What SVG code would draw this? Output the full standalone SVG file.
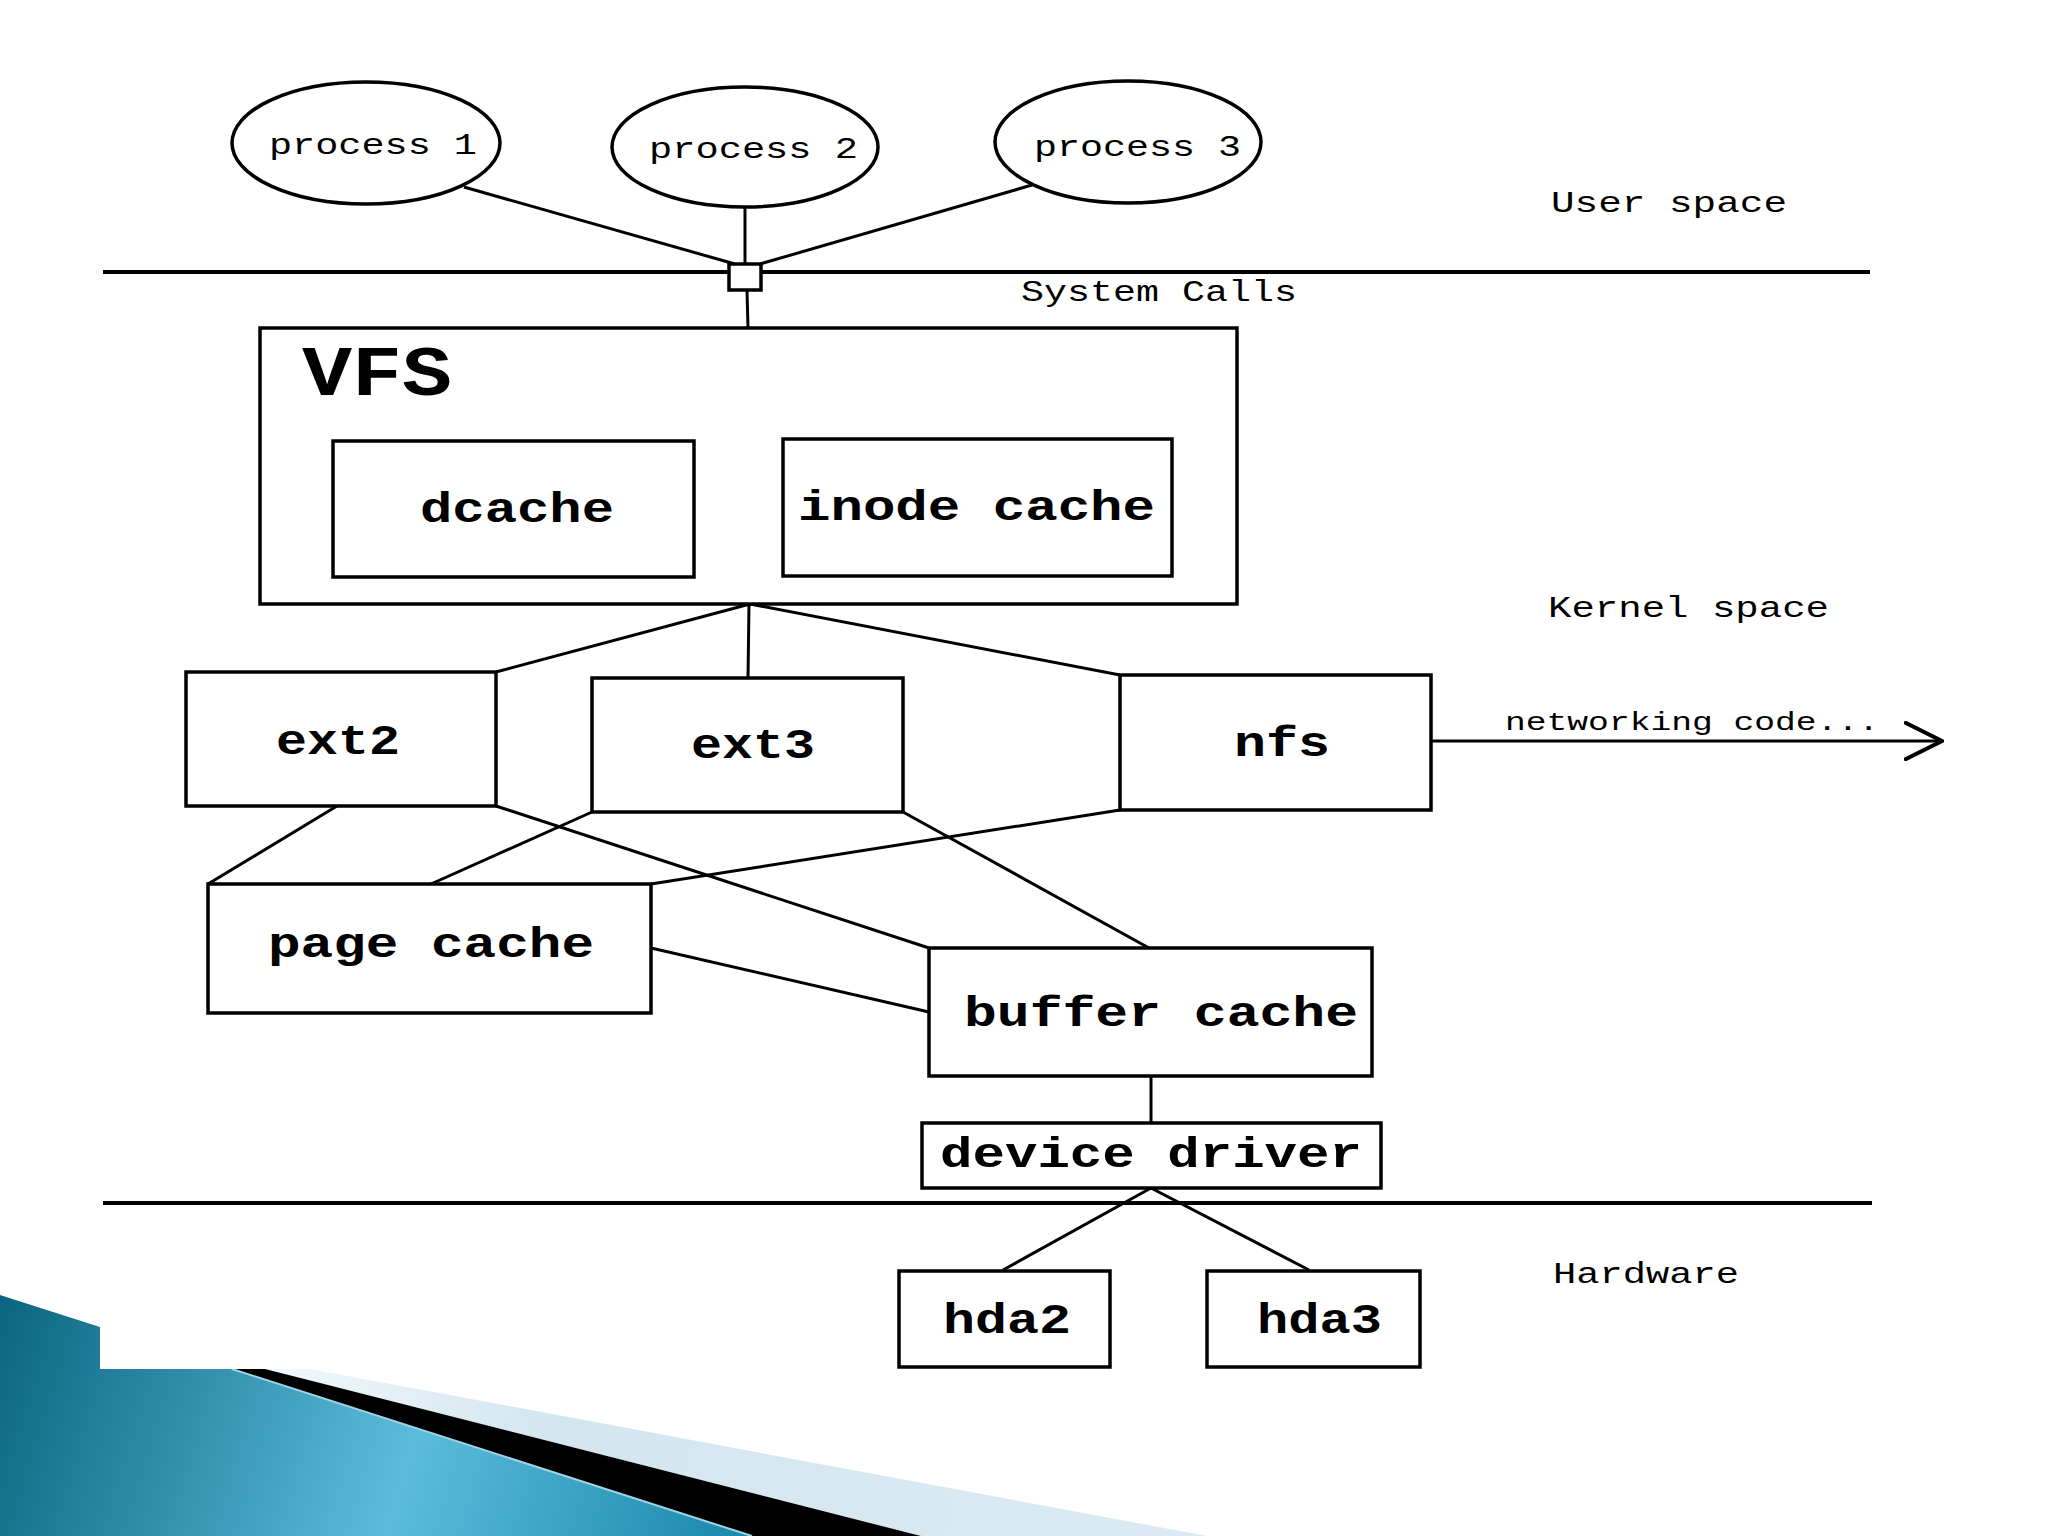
<svg xmlns="http://www.w3.org/2000/svg" width="2048" height="1536" viewBox="0 0 2048 1536">
<defs>
<linearGradient id="blueG" gradientUnits="userSpaceOnUse" x1="0" y1="1300" x2="760" y2="1536">
<stop offset="0" stop-color="#0b6580"/>
<stop offset="0.55" stop-color="#5bbcdb"/>
<stop offset="1" stop-color="#1686a9"/>
</linearGradient>
<linearGradient id="lightG" gradientUnits="userSpaceOnUse" x1="265" y1="1369" x2="1207" y2="1536">
<stop offset="0" stop-color="#f2f8fb"/>
<stop offset="0.3" stop-color="#d3e6ef"/>
<stop offset="1" stop-color="#dbeaf2"/>
</linearGradient>
<marker id="chev" viewBox="0 0 40 40" refX="38" refY="20" markerWidth="40" markerHeight="40" markerUnits="userSpaceOnUse" orient="auto">
<path d="M0,1 L38,20 L0,39" fill="none" stroke="#000" stroke-width="4"/>
</marker>
<style>
.box{fill:#fff;stroke:#000;stroke-width:3.5}
.ell{fill:#fff;stroke:#000;stroke-width:3.5}
.ln{stroke:#000;stroke-width:3;fill:none}
.sep{stroke:#000;stroke-width:4;fill:none}
.lbl{font-family:"Liberation Mono","DejaVu Sans Mono",monospace;fill:#000}
.bold{font-family:"Liberation Mono","DejaVu Sans Mono",monospace;font-weight:bold;fill:#000}
</style>
</defs>
<rect x="0" y="0" width="2048" height="1536" fill="#fff"/>
<g id="decoration">
<polygon points="0,1295 752,1536 0,1536" fill="url(#blueG)"/>
<polygon points="265,1369 310,1369 1207,1536 921,1536" fill="url(#lightG)"/>
<polygon points="232,1369 265,1369 921,1536 752,1536" fill="#000"/>
<line x1="232" y1="1369" x2="752" y2="1536" stroke="#9fd3e6" stroke-width="2"/>
<rect x="100" y="0" width="1948" height="1369" fill="#fff"/>
</g>
<g id="separators">
<line class="sep" x1="103" y1="272" x2="1870" y2="272"/>
<line class="sep" x1="103" y1="1203" x2="1872" y2="1203" stroke-width="3.5"/>
</g>
<g id="connectors">
<line class="ln" x1="464" y1="187" x2="735" y2="264"/>
<line class="ln" x1="745" y1="207" x2="745" y2="264"/>
<line class="ln" x1="1032" y1="185" x2="760" y2="264"/>
<line class="ln" x1="747" y1="290" x2="748" y2="328"/>
<line class="ln" x1="750" y1="604" x2="496" y2="672"/>
<line class="ln" x1="749" y1="604" x2="748" y2="678"/>
<line class="ln" x1="750" y1="604" x2="1120" y2="675"/>
<line class="ln" x1="337" y1="806" x2="208" y2="884"/>
<line class="ln" x1="592" y1="812" x2="431" y2="884"/>
<line class="ln" x1="1120" y1="810" x2="651" y2="884"/>
<line class="ln" x1="496" y1="806" x2="929" y2="948"/>
<line class="ln" x1="903" y1="812" x2="1149" y2="948"/>
<line class="ln" x1="651" y1="948" x2="929" y2="1012"/>
<line class="ln" x1="1151" y1="1076" x2="1151" y2="1123"/>
<line class="ln" x1="1151" y1="1188" x2="1003" y2="1270"/>
<line class="ln" x1="1151" y1="1188" x2="1309" y2="1270"/>
<line class="ln" x1="1431" y1="741" x2="1942" y2="741" stroke-width="4" marker-end="url(#chev)"/>
</g>
<g id="syscall-junction">
<rect x="729" y="264" width="32" height="26" class="box" stroke-width="4"/>
</g>
<g id="process1">
<ellipse class="ell" cx="366" cy="143" rx="134" ry="61"/>
<text class="lbl" x="269" y="154" font-size="29" textLength="208" lengthAdjust="spacingAndGlyphs">process 1</text>
</g>
<g id="process2">
<ellipse class="ell" cx="745" cy="147" rx="133" ry="60"/>
<text class="lbl" x="649" y="158" font-size="29" textLength="209" lengthAdjust="spacingAndGlyphs">process 2</text>
</g>
<g id="process3">
<ellipse class="ell" cx="1128" cy="142" rx="133" ry="61"/>
<text class="lbl" x="1034" y="156" font-size="29" textLength="207" lengthAdjust="spacingAndGlyphs">process 3</text>
</g>
<g id="vfs">
<rect class="box" x="260" y="328" width="977" height="276"/>
<text class="bold" x="302" y="395" font-size="70" textLength="150" lengthAdjust="spacingAndGlyphs">VFS</text>
</g>
<g id="dcache">
<rect class="box" x="333" y="441" width="361" height="136"/>
<text class="bold" x="420" y="522" font-size="42" textLength="194" lengthAdjust="spacingAndGlyphs">dcache</text>
</g>
<g id="inode-cache">
<rect class="box" x="783" y="439" width="389" height="137"/>
<text class="bold" x="798" y="520" font-size="42" textLength="357" lengthAdjust="spacingAndGlyphs">inode cache</text>
</g>
<g id="ext2">
<rect class="box" x="186" y="672" width="310" height="134"/>
<text class="bold" x="276" y="754" font-size="42" textLength="124" lengthAdjust="spacingAndGlyphs">ext2</text>
</g>
<g id="ext3">
<rect class="box" x="592" y="678" width="311" height="134"/>
<text class="bold" x="691" y="758" font-size="42" textLength="124" lengthAdjust="spacingAndGlyphs">ext3</text>
</g>
<g id="nfs">
<rect class="box" x="1120" y="675" width="311" height="135"/>
<text class="bold" x="1234" y="756" font-size="42" textLength="96" lengthAdjust="spacingAndGlyphs">nfs</text>
</g>
<g id="page-cache">
<rect class="box" x="208" y="884" width="443" height="129"/>
<text class="bold" x="268" y="957" font-size="42" textLength="326" lengthAdjust="spacingAndGlyphs">page cache</text>
</g>
<g id="buffer-cache">
<rect class="box" x="929" y="948" width="443" height="128"/>
<text class="bold" x="964" y="1026" font-size="42" textLength="394" lengthAdjust="spacingAndGlyphs">buffer cache</text>
</g>
<g id="device-driver">
<rect class="box" x="922" y="1123" width="459" height="65"/>
<text class="bold" x="940" y="1167" font-size="43" textLength="422" lengthAdjust="spacingAndGlyphs">device driver</text>
</g>
<g id="hda2">
<rect class="box" x="899" y="1271" width="211" height="96"/>
<text class="bold" x="943" y="1333" font-size="42" textLength="128" lengthAdjust="spacingAndGlyphs">hda2</text>
</g>
<g id="hda3">
<rect class="box" x="1207" y="1271" width="213" height="96"/>
<text class="bold" x="1257" y="1333" font-size="42" textLength="125" lengthAdjust="spacingAndGlyphs">hda3</text>
</g>
<g id="region-labels">
<text class="lbl" x="1551" y="212" font-size="30" textLength="236" lengthAdjust="spacingAndGlyphs">User space</text>
<text class="lbl" x="1021" y="301" font-size="29" textLength="276" lengthAdjust="spacingAndGlyphs">System Calls</text>
<text class="lbl" x="1548" y="617" font-size="29" textLength="281" lengthAdjust="spacingAndGlyphs">Kernel space</text>
<text class="lbl" x="1505" y="730" font-size="26" textLength="374" lengthAdjust="spacingAndGlyphs">networking code...</text>
<text class="lbl" x="1553" y="1283" font-size="29" textLength="186" lengthAdjust="spacingAndGlyphs">Hardware</text>
</g>
</svg>
